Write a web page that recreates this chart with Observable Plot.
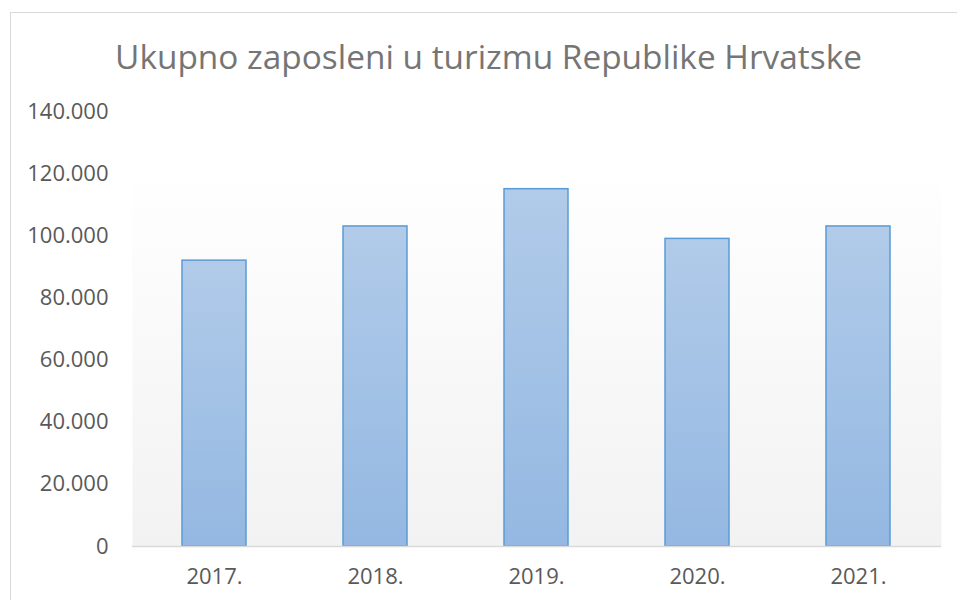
<!DOCTYPE html>
<html><head><meta charset="utf-8">
<script src="https://cdn.jsdelivr.net/npm/d3@7"></script>
<script src="https://cdn.jsdelivr.net/npm/@observablehq/plot@0.6"></script>
<style>
body{margin:0;background:#fff;}
#wrap{position:relative;width:957px;height:600px;overflow:hidden;font-family:"Open Sans",sans-serif;}
#border{position:absolute;left:10px;top:12px;width:1000px;height:700px;border:1.5px solid #d9d9d9;}
#title{position:absolute;top:33px;left:0;width:977px;text-align:center;font-size:33.4px;line-height:normal;color:#757575;white-space:nowrap;}
#chart{position:absolute;left:0;top:0;}
</style></head>
<body>
<div id="wrap">
  <div id="border"></div>
  <div id="chart"></div>
  <div id="title"></div>
</div>
<script>
const years = ["2017.", "2018.", "2019.", "2020.", "2021."];
const employed = [92000, 103000, 115000, 99000, 103000];
const yTicks = [0, 20000, 40000, 60000, 80000, 100000, 120000, 140000];
const titleText = "Ukupno zaposleni u turizmu Republike Hrvatske";

const data = years.map((y, i) => ({year: y, value: employed[i]}));
const fmt = d => d === 0 ? "0" : d3.format(",")(d).replace(/,/g, ".");

const defs = () => {
  const g = d3.create("svg:defs");
  g.html(`
    <linearGradient id="barGrad" x1="0" y1="0" x2="0" y2="1">
      <stop offset="0" stop-color="#b1cbe9"/>
      <stop offset="1" stop-color="#94b8e2"/>
    </linearGradient>
    <linearGradient id="bgGrad" x1="0" y1="0" x2="0" y2="1">
      <stop offset="0.12" stop-color="#ffffff"/>
      <stop offset="1" stop-color="#f2f2f2"/>
    </linearGradient>`);
  return g.node();
};

const chart = Plot.plot({
  width: 957,
  height: 600,
  marginLeft: 132,
  marginRight: 16,
  marginTop: 111,
  marginBottom: 54,
  style: {fontFamily: "'Open Sans', sans-serif", fontSize: "22px", color: "#595959", background: "transparent"},
  x: {domain: years, paddingInner: 0.6, paddingOuter: 0.3, label: null},
  y: {domain: [0, 140000], label: null},
  marks: [
    defs,
    Plot.frame({fill: "url(#bgGrad)", stroke: "none"}),
    Plot.barY(data, {x: "year", y: "value", fill: "url(#barGrad)", stroke: "#5b9bd5", strokeWidth: 1.5}),
    Plot.ruleY([0], {stroke: "#d9d9d9", strokeWidth: 1.5}),
    Plot.axisY({ticks: yTicks, tickFormat: fmt, tickSize: 0, tickPadding: 24, color: "#595959", label: null}),
    Plot.axisX({tickSize: 0, tickPadding: 22, color: "#595959", label: null})
  ]
});
document.getElementById("chart").appendChild(chart);
document.getElementById("title").textContent = titleText;
</script>
</body></html>
